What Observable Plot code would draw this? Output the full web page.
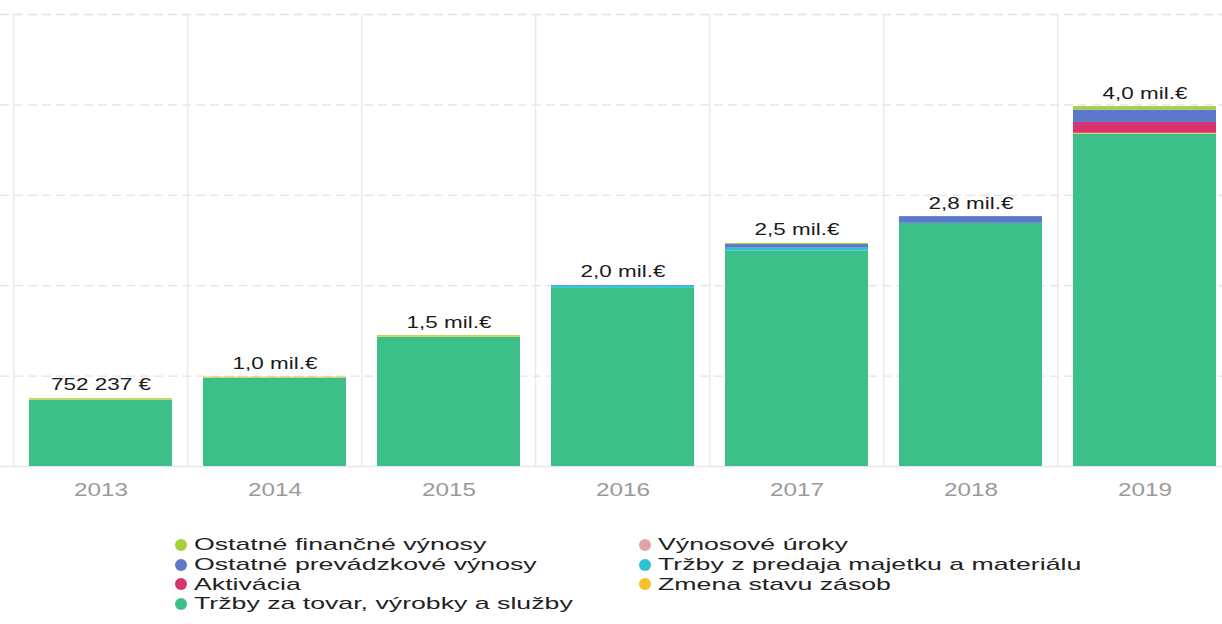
<!DOCTYPE html>
<html>
<head>
<meta charset="utf-8">
<script src="https://cdn.jsdelivr.net/npm/d3@7"></script>
<script src="https://cdn.jsdelivr.net/npm/@observablehq/plot@0.6"></script>
<style>
  html, body { margin: 0; padding: 0; background: #fff; overflow: hidden; }
  body { width: 1222px; height: 624px; font-family: "Liberation Sans", Arial, sans-serif; }
  #chart { position: absolute; left: 0; top: 0; }
  g[aria-label^="x-axis"] text { fill: #9a9a9a; font-size: 18px; }
  #legend { position: absolute; left: 0; top: 535px; width: 1222px; }
  .col { position: absolute; top: 0; }
  .item { height: 19.7px; line-height: 19.7px; font-size: 17px; color: #222; white-space: nowrap; display: flex; align-items: center; }
  .dot { display: inline-block; flex: none; width: 12px; height: 12px; border-radius: 50%; margin-right: 7px; }
  .lbl { display: inline-block; line-height: 17px; transform: scaleX(1.57); transform-origin: left center; }
</style>
</head>
<body>
<div id="chart"></div>
<div id="legend"></div>
<script>
// Categories
const years = ["2013", "2014", "2015", "2016", "2017", "2018", "2019"];

// Series (stack order bottom to top)
const seriesNames = [
  "Tržby za tovar, výrobky a služby",
  "Zmena stavu zásob",
  "Aktivácia",
  "Tržby z predaja majetku a materiálu",
  "Ostatné prevádzkové výnosy",
  "Výnosové úroky",
  "Ostatné finančné výnosy"
];
const seriesColors = ["#3dbf8a", "#f6c22b", "#d6336f", "#2cc4d4", "#5b78cb", "#dfa3a8", "#a4d03a"];

// Values in € per year
const trzbyTovar      = [735000, 975000, 1430000, 1970000, 2385000, 2690000, 3676000];
const zmenaZasob      = [  9000,   7000,    5000,       0,       0,       0,   10000];
const aktivacia       = [     0,      0,       0,       0,       0,       0,  120000];
const trzbyMajetok    = [     0,      0,       0,   25000,   30000,       0,       0];
const ostPrevadzkove  = [     0,      0,       0,    8000,   40000,   74000,  137000];
const vynosoveUroky   = [     0,      0,       0,       0,       0,       0,    2000];
const ostFinancne     = [  8237,   6000,   12000,       0,   12000,       0,   36000];

// Total labels
const totalLabels = ["752 237 €", "1,0 mil.€", "1,5 mil.€", "2,0 mil.€", "2,5 mil.€", "2,8 mil.€", "4,0 mil.€"];

// Gridline values
const yGrid = [1e6, 2e6, 3e6, 4e6, 5e6];

// Legend layout (columns)
const legendCols = [
  ["Ostatné finančné výnosy", "Ostatné prevádzkové výnosy", "Aktivácia", "Tržby za tovar, výrobky a služby"],
  ["Výnosové úroky", "Tržby z predaja majetku a materiálu", "Zmena stavu zásob"]
];

const seriesValues = [trzbyTovar, zmenaZasob, aktivacia, trzbyMajetok, ostPrevadzkove, vynosoveUroky, ostFinancne];
const rows = [];
seriesNames.forEach((s, si) => years.forEach((y, yi) => rows.push({year: y, series: s, value: seriesValues[si][yi]})));
const totals = years.map((y, yi) => ({year: y, total: d3.sum(seriesValues, v => v[yi]), label: totalLabels[yi]}));

const xRange = [11, 1234];
const step = (xRange[1] - xRange[0]) / years.length;
const pad = 0.18;

const chart = Plot.plot({
  width: 1222,
  height: 520,
  marginTop: 14,
  marginBottom: 54,
  marginLeft: 0,
  marginRight: 0,
  style: {fontFamily: "'Liberation Sans', Arial, sans-serif", background: "white", overflow: "hidden"},
  x: {domain: years, range: xRange, paddingInner: pad, paddingOuter: pad / 2, tickSize: 0, tickPadding: 17, label: null},
  y: {domain: [0, 5e6], axis: null},
  color: {domain: seriesNames, range: seriesColors},
  marks: [
    Plot.ruleY(yGrid, {stroke: "#e3e3e3", strokeWidth: 1.3, strokeDasharray: "9,5"}),
    Plot.ruleY([0], {stroke: "#e6e6e6", strokeWidth: 1.3}),
    Plot.ruleX(years, {x: d => d, y1: 0, y2: 5e6, dx: -step / 2, stroke: "#e8e8e8", strokeWidth: 1.3}),
    Plot.ruleX(years.slice(-1), {x: d => d, y1: 0, y2: 5e6, dx: step / 2, stroke: "#e8e8e8", strokeWidth: 1.3}),
    Plot.barY(rows, Plot.stackY({x: "year", y: "value", fill: "series", z: "series", order: seriesNames})),
    Plot.text(totals, {x: "year", y: "total", text: "label", lineAnchor: "bottom", dy: -8, fontSize: 16.5, fill: "#1a1a1a"})
  ]
});
document.getElementById("chart").appendChild(chart);

// Horizontal text stretch as in the reference
function stretch(sel, s) {
  chart.querySelectorAll(sel).forEach(t => {
    const x = t.getAttribute("x") || 0;
    const tr = t.getAttribute("transform") || "";
    t.setAttribute("x", 0);
    t.setAttribute("transform", `${tr} translate(${x},0) scale(${s},1)`);
  });
}
stretch('g[aria-label="text"] text', 1.36);
stretch('g[aria-label^="x-axis"] text', 1.35);

const legend = document.getElementById("legend");
const colLefts = [175, 639];
legendCols.forEach((col, ci) => {
  const c = document.createElement("div");
  c.className = "col";
  c.style.left = colLefts[ci] + "px";
  col.forEach(name => {
    const it = document.createElement("div");
    it.className = "item";
    const dot = document.createElement("span");
    dot.className = "dot";
    dot.style.background = seriesColors[seriesNames.indexOf(name)];
    it.appendChild(dot);
    const lbl = document.createElement("span");
    lbl.className = "lbl";
    lbl.textContent = name;
    it.appendChild(lbl);
    c.appendChild(it);
  });
  legend.appendChild(c);
});
</script>
</body>
</html>
